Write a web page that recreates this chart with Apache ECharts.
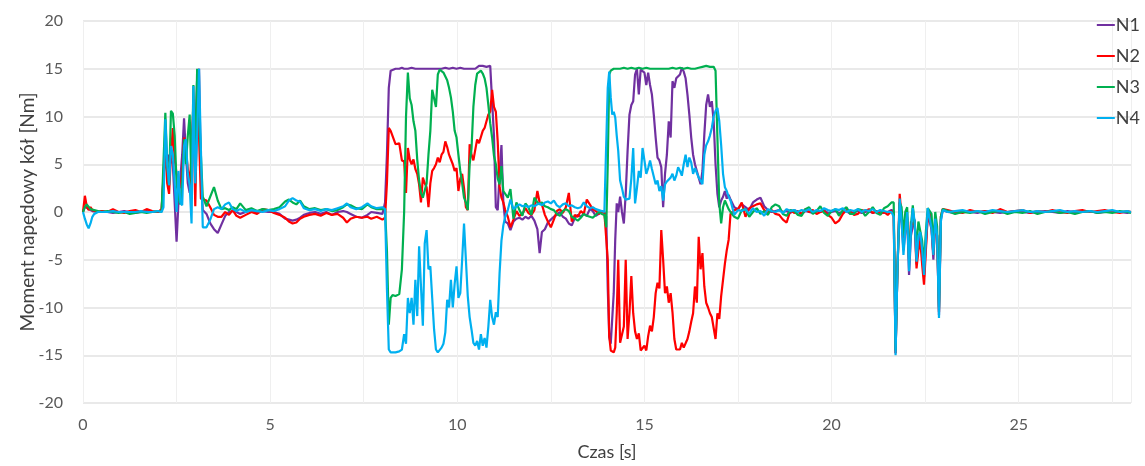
<!DOCTYPE html>
<html>
<head>
    <meta charset="utf-8">
    <title>Moment napędowy kół</title>
    <script src="https://cdn.jsdelivr.net/npm/echarts@6/dist/echarts.min.js"></script>
    <style>
        body { margin: 0; background: #fff; }
        #chart { width: 1145px; height: 466px; }
    </style>
</head>
<body>
    <div id="chart"></div>
    <script type="text/javascript">
        // czas [s] - próbki (gęściej w fazach dynamicznych)
        var time = [
            0, 0.05, 0.1, 0.15, 0.2, 0.25, 0.3, 0.4, 0.5, 0.65, 0.8, 0.95, 1.1, 1.25, 1.4, 1.55, 1.7, 1.85, 2.0, 2.1,
            2.15, 2.2, 2.25, 2.3, 2.35, 2.4, 2.45, 2.5, 2.55, 2.6, 2.65, 2.7, 2.75, 2.8, 2.85, 2.9, 2.95, 3.0, 3.05, 3.1, 3.15, 3.2,
            3.3, 3.4, 3.5, 3.6, 3.7, 3.8, 3.9, 4.0, 4.1, 4.2, 4.35, 4.5, 4.65, 4.8, 4.95, 5.1, 5.25,
            5.4, 5.5, 5.6, 5.7, 5.8, 5.9, 6.05, 6.2, 6.35, 6.5, 6.65, 6.8, 6.95, 7.05, 7.15, 7.3, 7.45, 7.6, 7.7, 7.85, 8.0,
            8.07, 8.12, 8.17, 8.22, 8.27, 8.35, 8.45, 8.52,
            8.58, 8.63, 8.68, 8.73, 8.78, 8.83, 8.88, 8.93, 8.98, 9.03, 9.08, 9.13, 9.18, 9.23, 9.28, 9.33, 9.38, 9.43, 9.48, 9.53,
            9.58, 9.63, 9.68, 9.73, 9.78, 9.83, 9.88, 9.93, 9.98, 10.03, 10.08, 10.13, 10.18, 10.23, 10.28, 10.33, 10.38, 10.43, 10.48, 10.53,
            10.58, 10.63, 10.68, 10.73, 10.78, 10.83, 10.88, 10.93, 10.98, 11.03, 11.08, 11.13, 11.18, 11.23, 11.28,
            11.35, 11.42, 11.5, 11.58, 11.66, 11.74, 11.82, 11.9, 11.98, 12.06, 12.14, 12.2, 12.26, 12.34, 12.42, 12.5, 12.58, 12.66, 12.74, 12.82,
            12.9, 12.98, 13.06, 13.14, 13.22, 13.3, 13.38, 13.46, 13.54, 13.62, 13.7, 13.78, 13.86, 13.93,
            13.98, 14.02, 14.06, 14.1, 14.14, 14.18, 14.22, 14.26, 14.3,
            14.35, 14.4, 14.45, 14.5, 14.55, 14.6, 14.65, 14.7, 14.75, 14.8, 14.85, 14.9, 14.95, 15.0, 15.05, 15.1, 15.15, 15.2, 15.25, 15.3,
            15.35, 15.4, 15.45, 15.5, 15.55, 15.6, 15.65, 15.7, 15.75, 15.8, 15.85, 15.9, 15.95, 16.0, 16.05, 16.1, 16.15, 16.2, 16.25, 16.3,
            16.35, 16.4, 16.45, 16.5, 16.55, 16.6, 16.65, 16.7, 16.75, 16.8, 16.85, 16.9, 16.95, 17.0, 17.05, 17.1, 17.15, 17.2, 17.25, 17.3,
            17.4, 17.5, 17.6, 17.7, 17.8, 17.9, 18.0, 18.1, 18.2, 18.3, 18.4, 18.5, 18.6, 18.7, 18.8, 18.9, 19.0, 19.1, 19.2, 19.3,
            19.4, 19.5, 19.6, 19.7, 19.8, 19.9, 20.0, 20.1, 20.2, 20.3, 20.4, 20.5, 20.6, 20.7, 20.8, 20.9, 21.0, 21.1, 21.2, 21.3,
            21.4, 21.5, 21.6,
            21.66, 21.71, 21.76, 21.82, 21.87, 21.92, 21.97, 22.02, 22.07, 22.12, 22.17, 22.22, 22.27, 22.32, 22.37, 22.42, 22.47, 22.52, 22.57, 22.62,
            22.67, 22.72, 22.77, 22.82, 22.87, 22.92, 22.97,
            23.1, 23.3, 23.5, 23.7, 23.9, 24.1, 24.3, 24.5, 24.7, 24.9, 25.1, 25.3, 25.5, 25.7, 25.9, 26.1, 26.3, 26.5, 26.7, 26.9,
            27.1, 27.3, 27.5, 27.7, 27.9, 28.0
        ];

        // N1 [Nm]
        var n1 = [
            0, 0.6, 0.5, 0.3, 0.2, 0.1, 0.1, 0, 0.1, 0, -0.1, 0, 0.1, 0, -0.1, 0, 0.1, 0, 0, 0.1,
            0.2, 7.6, 5, 6, 5.5, 5, 4.9, -3.1, 1, 3.5, 6, 9.8, 6, 3, 2, 5, 11.8, 8, 14, 15, 4, 0.2,
            -0.2, -1.2, -1.8, -2.2, -1.3, -0.4, 0, 0.1, 0, -0.2, 0, 0.2, -0.1, 0.1, 0, 0, -0.2,
            -0.7, -0.8, -0.9, -0.8, -0.6, -0.3, -0.1, 0, -0.2, 0, -0.3, 0, 0.1, 0, -0.2, -0.5, -0.6, -0.3, 0, -0.1, -0.2,
            1, 6, 13, 14.8, 15, 15, 15, 15.1,
            15, 15.1, 15, 15, 15.1, 15, 15, 15.1, 15, 15, 15, 15.1, 15, 15, 15, 15.1, 15, 15, 15, 15.1,
            15, 15, 15.1, 15, 15, 15, 15.1, 15, 15, 15, 15.1, 15, 15, 15.1, 15, 15, 15, 15.1, 15, 15.2,
            15.3, 15.2, 15.3, 15.3, 15.2, 15.3, 15.3, 15.2, 8, 0.5, 0.2, 4, 7, 1, -1,
            -1.2, -1.9, -1.0, -0.7, -0.6, -0.8, -0.5, -0.7, -0.4, -0.9, -1.8, -4.3, -2.1, -1.8, -1.1, -0.8, -0.5, -0.3, 0, -0.5,
            -0.7, -1.2, -1.4, -0.6, -0.3, -0.5, -0.2, -0.4, 0.3, 0.1, -0.4, -0.2, 0.1, 0,
            -0.5, -8, -13.1, -13.8, -14, -8.5, -2.9, 0.9, 0,
            1.6, 0, -1.2, 1.9, 6.4, 10.2, 11.2, 11.6, 14.4, 15, 12.3, 14.9, 15, 14.6, 13.3, 14.6, 13.3, 12.3, 10.2, 7.8,
            5.7, 5.4, 4.7, 0.5, 4, 6, 9.5, 7.8, 13.7, 13, 14, 14, 14.4, 15.1, 14.7, 14, 12.3, 10.2, 7.8, 6,
            5, 4.3, 3.6, 2.9, 4.3, 8.1, 11.2, 12.3, 11, 11.6, 9.5, 5, 1.9, 0.5, 1.2, 1.6, 2.2, 1.4, 1.8, 1.3,
            0.5, 0.3, 0.8, 0.5, 0.2, 1.0, 1.3, 1.5, 0.6, 0.2, 0, 0.1, 0.2, 0, 0.1, -0.1, 0.2, 0, -0.2, 0.1,
            0, -0.1, 0.1, 0, 0.2, -0.1, 0, 0.1, -0.1, 0, 0.1, -0.2, 0, 0.1, -0.1, 0, 0.1, -0.1, 0, 0.1,
            -0.1, 0, 0.2,
            0.1, -14.8, -6, 1, -1, -4, -2, -0.5, -6.6, -2.5, -1.5, -0.8, -5.5, -3, -2.5, -4.5, -6.8, -3.5, -0.2, -0.3,
            -1.8, -5, -1, -2.5, -10.8, -0.8, 0.2,
            0, -0.1, 0.1, 0, -0.1, 0.1, 0, -0.1, 0, 0.1, 0, -0.1, 0, 0.1, 0, -0.1, 0.1, 0, 0, 0.1,
            -0.1, 0, 0.1, 0, -0.1, 0
        ];

        // N2 [Nm]
        var n2 = [
            0, 1.7, 0.6, 0.2, 0.5, 0.2, 0.1, 0, 0.1, 0, 0.3, 0, -0.1, 0.1, 0.2, 0, 0.3, 0.1, 0, 0.3,
            0.3, 6.6, 3, 1.9, 6, 8.8, 5.5, 4, 3.5, 2.5, 4, 7.8, 6.5, 4.5, 3, 6, 11.1, 0.6, 11, 8, 1.4, 1.5,
            1.2, 0.5, -0.3, -0.5, -0.5, 0, -0.3, 0.2, -0.4, -0.6, -0.3, 0, -0.2, 0.3, 0.2, -0.1, -0.3,
            -0.6, -1.0, -1.2, -1.1, -0.7, -0.5, -0.3, -0.2, -0.4, -0.1, -0.3, -0.2, -0.6, -1.1, -0.7, -0.5, -0.6, -0.5, -0.7, -0.5, -0.8,
            -0.6, 3, 8.8, 8.5, 8.3, 7.1, 7.2, 5.4,
            5.3, 2.0, 6.7, 5.5, 5.0, 5.5, 4.5, 4.0, 2.9, 1.0, 3.6, 3.0, 2.6, 0.5, 3, 4.3, 4.6, 5.0, 5.7, 5.2,
            6.0, 6.3, 7.4, 6.8, 6.0, 5.5, 5.0, 4.3, 4.6, 2.2, 3.5, 4.0, 2.5, 0.5, 0.2, 7.1, 6, 5.4, 6.5, 7.6,
            7.2, 7.0, 8.5, 8.8, 9.5, 10.2, 10.5, 12.8, 11.0, 10.5, 7.4, 2.6, 1.5, 1.0, 0.2,
            -0.5, -1.6, -0.8, 0.1, -0.4, -0.2, 0.4, -0.1, -0.3, 0.2, 2.2, 1.0, 0.8, -0.3, -1.0, -1.6, -0.8, 0.1, 0.3, -0.1,
            0.5, 2.0, -1.0, -0.3, -0.5, 0.1, -0.2, 1.3, 0.8, 0.3, 0.1, -0.2, 0, -0.1,
            0, -5, -13, -14.5, -14.7, -14.7, -14.2, -10.6, -5,
            -13.7, -13.7, -12, -5, -13.3, -10.6, -6.7, -10.6, -12.5, -13.3, -12.7, -14.5, -14.7, -14, -14.5, -13, -11.9, -12.5, -11, -8.5,
            -7.4, -8, -1.9, -5, -8.5, -7.8, -9.5, -8.5, -10.5, -13.3, -14.4, -14.2, -14.4, -13.7, -14.2, -14, -13.3, -12.5, -11.5, -10.6,
            -7.8, -9.5, -2.6, -6, -4.3, -7.8, -9.5, -10, -10.6, -11, -11.2, -13.3, -10.6, -11.2, -8.8, -7.1, -5.4, -4, -2.9, -0.2,
            0.2, 0.3, 1.0, -0.5, 0.4, 0.6, 0.8, 0.9, 0.2, -0.1, 0.2, -0.2, -0.3, -0.8, -1.1, 0.2, -0.1, 0.1, -0.2, 0.3,
            0, 0.2, -0.2, 0, 0.1, -0.3, -0.6, -1.2, -0.9, -0.2, 0.2, 0.1, -0.3, -0.2, 0.2, 0.1, 0.3, -0.1, 0.1, -0.2,
            0, -0.3, 0.1,
            -0.3, -14.8, -6, 1.9, -0.5, -3, -1.5, -0.7, -5, -1, -1.3, -1, -5.9, -4, -3, -5.5, -7.6, -4, -0.3, 0,
            -1.5, -4.5, -1, -2.5, -10.5, -0.5, 0.3,
            0.2, 0, -0.1, 0.2, 0, 0.1, -0.1, 0.3, 0, 0.1, 0.2, -0.1, 0.1, 0, 0.2, 0, -0.1, 0.1, 0.2, 0,
            0.1, 0.2, 0, -0.1, 0.1, 0
        ];

        // N3 [Nm]
        var n3 = [
            0, 0.5, 0.8, 0.6, 0.3, 0.4, 0.2, 0.1, 0, 0.1, 0, -0.1, 0, -0.2, -0.1, 0, -0.1, 0, 0.1, 0,
            0.2, 10.4, 5, 2.8, 10.6, 10.3, 8, 3, 1.5, 0.8, 3, 7.6, 5, 8, 10.2, 2.8, 13.3, 4.9, 15, 15, 6, 1.6,
            0.6, 1.6, 2.6, 1.2, 0.3, 0.4, 0.2, 0.5, 0.3, 0.9, 0.2, 0.4, 0.1, 0.3, 0.2, 0.3, 0.5,
            1.1, 1.3, 1.0, 0.8, 1.2, 0.6, 0.3, 0.4, 0.2, 0.3, 0.1, 0.2, 0.5, 0.8, 0.7, 0.4, 0.3, 0.8, 0.5, 0.3, 0.3,
            0.3, -4, -11.8, -9, -8.7, -8.8, -8.6, -6,
            0, 10, 14.6, 11.9, 11.2, 9.5, 8.5, 5.5, 3.3, 2.0, 1.5, 1.6, 3.0, 6, 8.5, 12.8, 13, 11, 14.4, 14.9,
            14.9, 14.6, 14.5, 13.8, 13, 12, 10.5, 8.5, 7.8, 6, 4.3, 3, 1.5, 1.0, 0.2, 5, 6.6, 11, 13.3, 14.5,
            14.7, 14.8, 14.5, 14, 13, 11.2, 9.3, 7.8, 5.9, 5, 3.5, 2.9, 4.8, 2.2, 2.0,
            1.5, 2.4, -0.7, 1.0, 0.2, -0.4, 0.9, 0.5, -0.3, 1.5, 1.0, 0.8, 1.0, 0.6, 0.5, 0.3, 0.2, -0.2, -0.4, 0.1,
            0.3, 0.1, -0.5, -0.7, -0.9, -0.6, -0.2, -0.4, -0.5, -0.6, -0.3, 0, -0.2, -0.3,
            -1.6, 5, 14.4, 14.8, 15, 15, 15, 15, 15.1,
            15, 15, 15.1, 15, 15, 15, 15.1, 15, 15, 15, 15.1, 15, 15, 15, 15.1, 15, 15, 15.1, 15, 15,
            15, 15.1, 15, 15, 15, 15.1, 15, 15, 15.1, 15, 15, 15, 15.1, 15, 15, 15, 15.1, 15, 15, 15,
            15, 15, 15.1, 15.1, 15.2, 15.2, 15.3, 15.3, 15.2, 15.2, 15.2, 14.8, 7.8, 0.9, -1.2, 0.5, 1.2, 1.0, 0.3, 0,
            -0.5, -0.7, 0.2, 0.3, -0.5, 0, 0.4, -0.2, 0.1, -0.3, 0.5, 0.8, 0.6, -0.2, -0.4, 0.2, 0.1, -0.3, -0.4, 0.3,
            0.5, -0.2, 0.1, 0.6, -0.1, -0.4, 0.1, 0.3, -0.4, 0.2, 0.5, -0.2, -0.2, 0.3, 0.2, -0.4, 0, 0.5, -0.1, -0.3,
            0.4, 0.6, 1.0,
            1.0, -14.5, -6, 1.0, 0.5, -2.5, 0, 0.5, -5, -1.5, 0.7, 0.6, -3.5, -1, -1, -3, -5.5, -2, 0.4, 0.6,
            -0.2, -3.5, 0, -1.5, -10, -0.5, 0.3,
            0.1, -0.2, 0, -0.1, 0.1, -0.2, 0, 0.1, -0.2, 0, -0.1, 0.1, -0.2, 0, 0.1, -0.1, 0, -0.2, 0, 0.1,
            -0.1, 0, -0.1, 0.1, 0, -0.1
        ];

        // N4 [Nm]
        var n4 = [
            0, -0.7, -1.3, -1.7, -1.2, -0.5, -0.2, 0, 0, 0, 0.1, 0, 0, 0, 0, 0.1, 0, 0, 0.1, 0,
            0.5, 9.7, 5, 2.8, 6.9, 6, 5.9, 0, 4.3, 1, 0.7, 6.9, 7.6, 4, 2.8, -1.2, 13.2, 3, 8, 15, 6.6, -1.6,
            -1.6, -0.8, 0.3, 0.5, 0.3, 0.8, 1.0, 0.3, 0.1, 0.3, 0, 0.2, 0.1, 0, 0.2, 0.1, 0.3,
            0.6, 1.2, 1.45, 1.2, 1.1, 0.4, 0.2, 0.3, 0.1, 0.3, 0.2, 0.4, 0.6, 0.9, 0.5, 0.3, 0.5, 0.9, 0.6, 0.4, 0.5,
            0.3, -8, -14.4, -14.7, -14.7, -14.7, -14.6, -14.4,
            -12.8, -13.8, -9, -10.6, -9, -11.8, -7.1, -10.9, -3.6, -7.8, -11.9, -3.3, -1.9, -6, -5.7, -9, -12.3, -14.4, -14.7, -14.5,
            -14.2, -13.8, -12.6, -9.2, -10, -7.1, -10, -7.5, -5.7, -9, -8.5, -5, -1.2, -5, -8.8, -11, -12.3, -13.7, -14, -13.5,
            -14.4, -12.8, -14, -13.2, -14.2, -12, -9.2, -11, -11.8, -10.5, -11, -6.4, -3, -1.4, -0.5,
            0.2, 1.3, 0.3, 0.6, 0.8, 0.6, 0.7, 0.5, 0.7, 0.6, 0.8, 0.9, 0.7, 1.0, 1.1, 0.9, 1.2, 0.7, 0.5, 0.8,
            0.9, 0.6, 0.7, 0.5, 0.4, 0.5, 1.0, 0.6, 0.4, 0.5, 0.3, 0.2, 0.1, 0,
            0, 13, 14.7, 12, 10.2, 10.5, 9.9, 8, 6.4,
            3.3, 2.5, 1.6, 1.3, 1.2, 1.4, 3.5, 6.7, 0.9, 2.5, 4.3, 3.6, 6.7, 5.4, 4, 4.6, 5.4, 4.5, 4.3, 2.9,
            3.3, 2.2, 2.7, 1.2, 2.9, 3.2, 3.3, 3.6, 4, 3.3, 3.8, 4.7, 4.3, 3.8, 5, 6, 4.7, 5.7, 5.2, 4.0,
            4.6, 4.7, 3.6, 3.3, 2.9, 6, 7, 7.4, 8, 8.8, 10, 10.6, 10.9, 9.5, 7, 4, 2.6, 2.2, 1.6, 1.2,
            -0.3, 0.2, 0.1, 0.3, -0.2, 0.4, 0, 0.1, -0.4, 0.3, 0.1, 0, 0.2, -0.1, 0.3, 0.1, 0.2, 0, 0.2, 0.1,
            0.3, 0, 0.2, 0.1, 0.4, 0.2, 0.1, 0.3, 0.2, 0.4, 0, 0.2, 0.1, 0.3, 0, 0.2, 0.1, 0.3, 0, 0.2,
            0.1, 0, 0,
            -0.5, -15, -6, 1.4, -1, -4.5, -2, 0, -6.2, -2, 0.4, -1, -5.2, -2.5, -2.1, -4, -6.6, -3, 0.4, 0.2,
            -1.7, -4.5, -0.7, -2.5, -11.1, -1, 0.2,
            0, 0.1, 0.2, 0, 0.1, 0, 0.2, 0.1, 0, 0.1, 0.2, 0, 0.1, 0, 0.1, 0.2, 0, 0.1, 0, 0.1,
            0, 0.1, 0.2, 0, 0.1, 0
        ];

        var names = ['N1', 'N2', 'N3', 'N4'];
        var colors = ['#7030A0', '#FF0000', '#00B050', '#00B0F0'];
        var values = [n1, n2, n3, n4];

        var font = 'Lato, "Open Sans", sans-serif';
        var myChart = echarts.init(document.getElementById('chart'));

        var series = names.map(function (name, i) {
            return {
                name: name,
                type: 'line',
                showSymbol: false,
                symbol: 'none',
                lineStyle: { width: 2.2, color: colors[i] },
                itemStyle: { color: colors[i] },
                data: time.map(function (t, k) { return [t, values[i][k]]; })
            };
        });

        var option = {
            animation: false,
            backgroundColor: '#ffffff',
            grid: { left: 83, right: 14, top: 21, bottom: 60 },
            legend: {
                orient: 'vertical',
                right: 0,
                top: 11,
                icon: 'rect',
                itemWidth: 18,
                itemHeight: 2,
                itemGap: 13,
                data: names,
                textStyle: { fontFamily: font, fontSize: 18, color: '#404040', padding: [0, 0, 0, -4] }
            },
            xAxis: {
                type: 'value',
                min: 0,
                max: 28,
                interval: 2.5,
                name: 'Czas [s]',
                nameLocation: 'middle',
                nameGap: 40,
                nameTextStyle: { fontFamily: font, fontSize: 18, color: '#404040' },
                axisLine: { show: false },
                axisTick: { show: false },
                axisLabel: {
                    fontFamily: font, fontSize: 16, color: '#595959', margin: 14,
                    formatter: function (v) { return v % 5 === 0 ? String(v) : ''; }
                },
                splitLine: { show: true, lineStyle: { color: '#efefef', width: 1 } }
            },
            yAxis: {
                type: 'value',
                min: -20,
                max: 20,
                interval: 5,
                name: 'Moment napędowy kół [Nm]',
                nameLocation: 'middle',
                nameGap: 46,
                nameMoveOverlap: false,
                nameTextStyle: { fontFamily: font, fontSize: 19, color: '#404040' },
                axisLine: { show: false },
                axisTick: { show: false },
                axisLabel: { fontFamily: font, fontSize: 16, color: '#595959', margin: 20 },
                splitLine: { show: true, lineStyle: { color: '#e2e2e2', width: 1.5 } }
            },
            series: series
        };

        myChart.setOption(option);
    </script>
</body>
</html>
